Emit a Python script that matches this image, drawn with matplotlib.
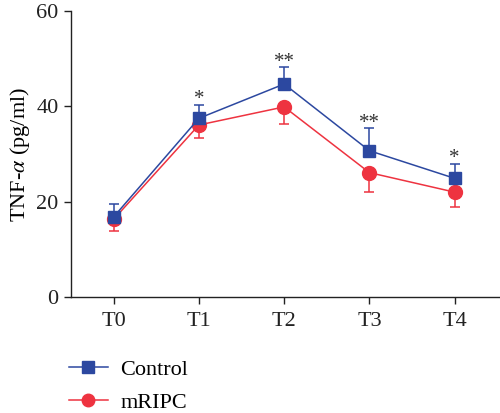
import matplotlib
matplotlib.use("Agg")
import matplotlib.pyplot as plt
from matplotlib.lines import Line2D
import numpy as np

categories = ["T0", "T1", "T2", "T3", "T4"]
control = [16.8, 37.5, 44.7, 30.7, 24.9]
control_err = [2.7, 2.9, 3.5, 4.7, 3.1]
mripc = [16.3, 36.1, 39.9, 26.1, 22.0]
mripc_err = [2.5, 2.8, 3.6, 4.0, 3.1]
stars = ["", "*", "**", "**", "*"]
yticks = [0, 20, 40, 60]

plt.rcParams['font.family'] = ['Liberation Serif', 'DejaVu Serif']
plt.rcParams['mathtext.fontset'] = 'stix'

blue = "#2c48a0"
red = "#ee3340"
fs = 16

fig = plt.figure(figsize=(5.0, 4.13), dpi=100)
ax = fig.add_axes([0.142, 0.281, 0.856, 0.692])
x = np.arange(len(categories))

zero = [0] * len(categories)
ax.errorbar(x, mripc, yerr=[mripc_err, zero], color=red, marker='o', markersize=10,
            lw=1.1, capsize=3.3, elinewidth=1.1, capthick=1.1, zorder=3)
ax.errorbar(x, control, yerr=[zero, control_err], color=blue, marker='s', markersize=9,
            lw=1.1, capsize=3.3, elinewidth=1.1, capthick=1.1, zorder=4)

for xi, c, e, s in zip(x, control, control_err, stars):
    if s:
        ax.text(xi, c + e - 0.9, s, ha='center', va='bottom', fontsize=15, color='#333333')

ax.set_xlim(-0.5, 4.52)
ax.set_ylim(0, 60)
ax.set_yticks(yticks)
ax.set_xticks(x)
ax.set_xticklabels(categories)
ax.tick_params(axis='both', labelsize=fs, width=1.0, length=5, colors='#222222')
ax.tick_params(axis='x', pad=6)
ax.tick_params(axis='y', pad=4)
for sp in ['top', 'right']:
    ax.spines[sp].set_visible(False)
for sp in ['left', 'bottom']:
    ax.spines[sp].set_linewidth(1.0)
    ax.spines[sp].set_color('#222222')
ax.set_ylabel(r"TNF-$\alpha$ (pg/ml)", fontsize=fs, labelpad=3)

handles = [Line2D([], [], color=blue, marker='s', markersize=8, lw=1.1),
           Line2D([], [], color=red, marker='o', markersize=9, lw=1.1)]
fig.legend(handles, ["Control", "mRIPC"], loc='upper left', bbox_to_anchor=(0.138, 0.13),
           frameon=False, fontsize=fs, handlelength=1.75, handletextpad=0.55,
           labelspacing=0.55, borderpad=0, borderaxespad=0)

fig.savefig("out.png", dpi=100)
